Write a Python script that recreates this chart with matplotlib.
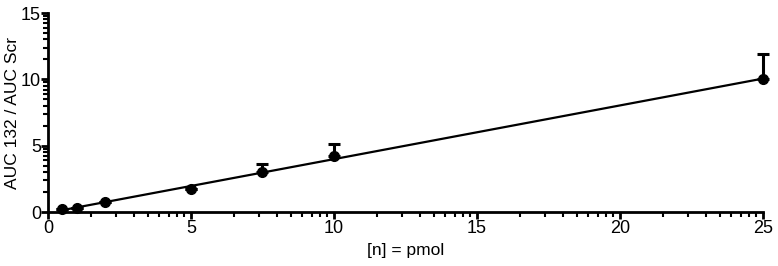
import numpy as np
import matplotlib
matplotlib.use("Agg")
import matplotlib.pyplot as plt
from matplotlib.ticker import FixedLocator

plt.rcParams['font.family'] = ['Liberation Sans', 'DejaVu Sans']

x = np.array([0.5, 1, 2, 5, 7.5, 10, 25])
y = np.array([0.22, 0.27, 0.75, 1.72, 3.05, 4.2, 10.0])
err_up = np.array([0.0, 0.0, 0.0, 0.0, 0.55, 0.9, 1.9])
xlabel = "[n] = pmol"
ylabel = "AUC 132 / AUC Scr"

fig = plt.figure(figsize=(7.78, 2.66), dpi=100)
ax = fig.add_axes([0.0617, 0.203, 0.919, 0.748])

slope, intercept = np.polyfit(x, y, 1)
xl = np.array([x.min(), x.max()])
ax.plot(xl, slope * xl + intercept, color='black', lw=1.6, zorder=2, clip_on=False)

eb = ax.errorbar(x, y, yerr=[np.zeros_like(err_up), err_up], fmt='none',
                 ecolor='black', elinewidth=2.2, capsize=4, capthick=2.2, zorder=3)
for art in list(eb.lines[1]) + list(eb.lines[2]):
    art.set_clip_on(False)
ax.plot(x, y, 'o', color='black', ms=7, zorder=4, clip_on=False)

ax.set_xlim(0, 25)
ax.set_ylim(0, 15)
ax.set_xticks([0, 5, 10, 15, 20, 25])
ax.set_yticks([0, 5, 10, 15])

def logminor(lo, hi, step):
    out = []
    for b in np.arange(lo, hi, step):
        for k in range(2, 10):
            out.append(b + step * np.log10(k))
    return out

ax.xaxis.set_minor_locator(FixedLocator(logminor(0, 25, 5)))
ax.yaxis.set_minor_locator(FixedLocator(logminor(0, 15, 5)))

for s in ['top', 'right']:
    ax.spines[s].set_visible(False)
for s in ['left', 'bottom']:
    ax.spines[s].set_linewidth(2)

ax.tick_params(which='major', length=5, width=2, labelsize=13, pad=1)
ax.tick_params(axis='y', which='major', pad=0)
ax.tick_params(which='minor', length=3.5, width=1.5)
ax.set_xlabel(xlabel, fontsize=12.5, labelpad=4)
ax.set_ylabel(ylabel, fontsize=12.5)
ax.yaxis.set_label_coords(-0.039, 0.5)

fig.savefig("out.png", dpi=100)
